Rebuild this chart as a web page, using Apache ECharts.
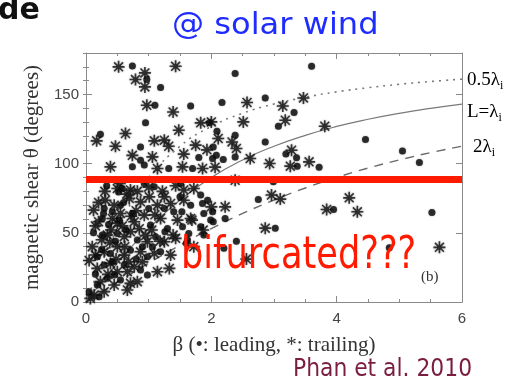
<!DOCTYPE html>
<html><head><meta charset="utf-8">
<script src="https://cdn.jsdelivr.net/npm/echarts@6/dist/echarts.min.js"></script>
<style>html,body{margin:0;padding:0;background:#fff}#c{width:519px;height:382px}</style>
</head><body><div id="c"></div>
<script>
// ---- data ----
const xTicks = [0, 2, 4, 6];
const yTicks = [0, 50, 100, 150];
const curveBeta = [0, 0.25, 0.5, 0.75, 1, 1.5, 2, 2.5, 3, 3.5, 4, 4.5, 5, 5.5, 6];
const curveHalf = [0, 28.1, 53.1, 73.7, 90, 112.6, 126.9, 136.4, 143.1, 148.0, 151.9, 154.9, 157.4, 159.4, 161.1];
const curveOne  = [0, 14.3, 28.1, 41.1, 53.1, 73.7, 90, 102.7, 112.6, 120.5, 126.9, 132.1, 136.4, 140.0, 143.1];
const curveTwo  = [0, 7.2, 14.3, 21.2, 28.1, 41.1, 53.1, 64.0, 73.7, 82.4, 90, 96.8, 102.7, 108.0, 112.6];
const redLevel = 88.5;
const leading = [
[0.74,170.6],[0.97,160.8],[1.19,155],[1.10,142.2],[1.67,141.7],[0.95,129.5],[1.97,129.5],[0.23,121.3],[0.87,112],[0.87,102.5],[0.93,99],[0.74,97.7],[1.32,96.5],[1.70,96.5],[1.80,104.5],[2.02,103.7],[2.08,106],
[2.38,165.1],[3.60,170.4],[2.86,147.5],[2.17,144.2],[3.32,137],[3.07,127.1],[2.09,123.5],[2.38,120.6],[2.86,115.7],[2.03,112.1],[2.38,104.9],[2.19,103],[3.19,106.9],[3.36,104.3],[3.37,98.2],[3.72,97.5],
[4.46,117.5],[5.05,109.2],[5.32,100.9],
[3.95,66.9],[5.52,64.7],[3.02,53.4],[4.84,39.2],[2.03,58],[2.22,60.4],[2.75,74.1],[2.4,44],[2.2,38.8],[2.99,86.9],
[0.58,82],[0.93,85.7],[1.09,83.3],[1.51,85.7],
[0.29,67.6],[0.42,65.2],[0.55,70],[1.0,67.6],[1.25,67.6],[1.4,65.2],[1.67,70],[1.83,77.3],[1.86,71.2],[1.94,73.6],[2.02,65.2],[1.88,64],
[0.26,60.4],[0.53,59.2],[1.03,55.6],[1.3,53.2],[1.54,54.4],[1.64,49.6],[1.83,54.4],[1.99,59.2],
[0.26,48.4],[0.5,49.6],[0.82,44.8],[1.11,47.2],[1.62,44.8],[1.88,48.4],
[0.18,32.7],[0.39,35.1],[0.71,37.5],[0.98,32.7],[1.19,36.3],
[0.29,26.7],[0.45,19.5],[0.61,26.7],[0.87,23.1],
[0.34,17.1],[0.18,12.3],[0.55,15.9],[0.98,19.5],
[0.21,3.8],[0.05,7.5],
[0.52,79.6],[1.5,76],[1.53,65.2],[0.28,64],[1.26,50.8],[1.6,42.4],
[0.12,50],[0.36,56],[0.47,44],[0.64,52],[0.74,64],[0.9,40],[0.42,29],[0.15,20],[0.6,72],[0.8,31],[1.06,40],[0.33,84],[0.25,38]
];
const trailing = [
[0.52,170],[0.94,165.6],[0.79,160.8],[0.94,155.5],[1.43,170.4],[0.97,142.2],[1.39,137.4],[1.83,129.5],[1.48,124.2],[0.63,121.8],[0.17,116.5],[0.47,112.6],[1.09,116.5],[1.25,117],[1.32,112.6],[1.56,106.9],[1.75,113.4],[1.93,110],[0.74,106],[1.06,104.9],[0.39,97.7],[1.14,96.5],[1.54,97.7],[1.86,96.5],
[2.57,144.2],[3.14,141.7],[3.47,147.5],[3.18,131.4],[2.51,130.2],[2.0,130.2],[3.81,127.1],[2.11,118.2],[2.33,115.7],[2.4,111],[2.62,103.7],[3.28,109.7],[2.93,100.1],[3.26,98.2],[3.56,101.3],[2.06,97.5],
[2.96,77.3],[3.1,74.4],[4.2,75.3],[3.84,66.9],[4.33,65.2],[2.86,53.4],[5.64,39.5],[2.0,68.8],[2.22,68.8],[2.56,31],[2.38,88],
[0.5,82],[0.71,81],[1.0,83],[1.22,80],[1.43,84],[1.56,81],[1.72,82],
[0.31,73.6],[0.69,74.9],[0.87,72.4],[1.14,70],[1.35,71.2],[1.56,73.6],
[0.42,60.4],[0.77,58],[0.93,62.8],[1.19,60.4],[1.46,59.2],[1.67,60.4],
[0.34,48.4],[0.61,47.2],[0.71,50.8],[0.98,43.6],[1.25,43.6],[1.43,46],[1.72,40],
[0.29,36.3],[0.5,40],[0.61,33.9],[0.87,36.3],[1.09,35.1],[1.35,33.9],
[0.18,24.3],[0.39,27.9],[0.5,21.9],[0.66,21.9],[0.77,25.5],[1.14,21.9],[1.33,24.3],
[0.23,14.7],[0.45,12.3],[0.71,13.5],[0.66,8.7],[0.82,14.7],
[0.13,5],[0.29,7.5],[0.07,2.6],
[0.12,66.4],[0.54,85.7],[0.1,40],[0.15,55],[0.05,30],[0.58,55],[0.45,70],[0.8,66],[0.3,80],[0.9,29],[0.38,43],[1.05,52],[1.25,76],[0.65,78],[1.87,52],[1.69,59.2],[1.39,48.4],[1.01,76],
[0.2,58],[0.25,45],[0.55,64],[0.72,62],[0.85,53],[0.48,31],[0.35,20],[0.62,40],[0.95,48],[1.1,63],[0.4,52],[0.15,34],[0.68,29],[0.82,80],[0.2,72],[1.18,44],[0.5,57]
];

// ---- chart ----
const zip = (xs, ys) => xs.map((x, i) => [x, ys[i]]);
const star = 'path://M0 5.2L12 5.2L12 6.8L0 6.8Z M5.2 0L6.8 0L6.8 12L5.2 12Z M1 2.1L2.1 1L11 9.9L9.9 11Z M9.9 1L11 2.1L2.1 11L1 9.9Z M3.6 3.6L8.4 3.6L8.4 8.4L3.6 8.4Z';
const frame = {show: true, onZero: false, lineStyle: {color: '#8a8a8a', width: 1}};
const tickStyle = {color: '#8a8a8a', width: 1};
const serif = '"Liberation Serif", "DejaVu Serif", serif';
const sans = '"Liberation Sans", Arial, sans-serif';
const sub = {fontSize: 12, fontFamily: serif, color: '#333', verticalAlign: 'bottom'};
const main = {fontSize: 19, fontFamily: serif, color: '#333', lineHeight: 24};

const chart = echarts.init(document.getElementById('c'), null, {renderer: 'canvas'});
chart.setOption({
  animation: false,
  backgroundColor: '#fff',
  grid: {left: 86, right: 57, top: 53, bottom: 80},
  xAxis: [
    {type: 'value', min: 0, max: 6, interval: 2, position: 'bottom',
     axisLine: frame, axisTick: {inside: true, length: 6, lineStyle: tickStyle},
     minorTick: {show: true, splitNumber: 4, length: 3, lineStyle: tickStyle},
     splitLine: {show: false}, minorSplitLine: {show: false},
     axisLabel: {color: '#444', fontSize: 15, fontFamily: sans, margin: 9,
       formatter: v => xTicks.includes(v) ? String(v) : ''},
     name: 'β (•: leading, *: trailing)', nameLocation: 'middle', nameGap: 33,
     nameTextStyle: {color: '#333', fontSize: 21, fontFamily: serif}},
    {type: 'value', min: 0, max: 6, interval: 2, position: 'top',
     axisLine: frame, axisTick: {inside: true, length: 6, lineStyle: tickStyle},
     minorTick: {show: true, splitNumber: 4, length: 3, lineStyle: tickStyle},
     splitLine: {show: false}, axisLabel: {show: false}}
  ],
  yAxis: [
    {type: 'value', min: 0, max: 180, interval: 50, position: 'left',
     axisLine: frame, axisTick: {inside: true, length: 6, lineStyle: tickStyle},
     splitLine: {show: false},
     axisLabel: {color: '#444', fontSize: 15, fontFamily: sans, margin: 7, showMaxLabel: false,
       formatter: v => yTicks.includes(v) ? String(v) : ''},
     name: 'magnetic shear θ (degrees)', nameLocation: 'middle', nameGap: 40, nameRotate: 90,
     nameTextStyle: {color: '#333', fontSize: 21, fontFamily: serif}},
    {type: 'value', min: 0, max: 180, interval: 10, position: 'left',
     axisLine: {show: false}, axisTick: {inside: true, length: 3, lineStyle: tickStyle},
     splitLine: {show: false}, axisLabel: {show: false}},
    {type: 'value', min: 0, max: 180, interval: 50, position: 'right',
     axisLine: frame, axisTick: {inside: true, length: 6, lineStyle: tickStyle},
     splitLine: {show: false}, axisLabel: {show: false}},
    {type: 'value', min: 0, max: 180, interval: 10, position: 'right',
     axisLine: {show: false}, axisTick: {inside: true, length: 3, lineStyle: tickStyle},
     splitLine: {show: false}, axisLabel: {show: false}}
  ],
  series: [
    {type: 'line', data: zip(curveBeta, curveHalf), smooth: true, showSymbol: false, silent: true, z: 1,
     lineStyle: {color: '#7a7a7a', width: 1.6, type: [2, 5]}},
    {type: 'line', data: zip(curveBeta, curveOne), smooth: true, showSymbol: false, silent: true, z: 1,
     lineStyle: {color: '#7a7a7a', width: 1.2, type: 'solid'}},
    {type: 'line', data: zip(curveBeta, curveTwo), smooth: true, showSymbol: false, silent: true, z: 1,
     lineStyle: {color: '#6a6a6a', width: 1.4, type: [9, 7]}},
    {type: 'scatter', data: trailing, symbol: star, symbolSize: 12, silent: true, z: 2,
     itemStyle: {color: '#1a1a1a', opacity: 0.85, shadowBlur: 2, shadowColor: 'rgba(0,0,0,0.5)'}},
    {type: 'scatter', data: leading, symbol: 'circle', symbolSize: 7, silent: true, z: 3,
     itemStyle: {color: '#0d0d0d', shadowBlur: 1.5, shadowColor: 'rgba(0,0,0,0.5)'}},
    {type: 'line', data: [[0, redLevel], [6, redLevel]], showSymbol: false, silent: true, z: 5,
     lineStyle: {color: '#ff1a00', width: 7}}
  ],
  graphic: [
    {type: 'text', x: -2, y: 26, z: 10, style: {text: 'de', fill: '#111', font: 'bold 30px "DejaVu Sans"', verticalAlign: 'bottom'}},
    {type: 'text', x: 172, y: 26, scaleX: 1.07, z: 10, style: {text: '@ solar wind', fill: '#1f2cff', font: '30px "DejaVu Sans"', verticalAlign: 'middle'}},
    {type: 'text', x: 181, y: 257, scaleX: 0.8, z: 10, style: {text: 'bifurcated???', fill: '#ff1a00', font: '44px "DejaVu Sans"', verticalAlign: 'middle'}},
    {type: 'text', x: 421, y: 277, z: 10, style: {text: '(b)', fill: '#333', font: '15px "Liberation Serif"', verticalAlign: 'middle'}},
    {type: 'text', x: 293, y: 370, scaleX: 0.91, z: 10, style: {text: 'Phan et al. 2010', fill: '#7a1d40', font: '24px "DejaVu Sans"', verticalAlign: 'middle'}},
    {type: 'text', x: 467, y: 80, z: 10, style: {text: '{m|0.5λ}{s|i}', verticalAlign: 'middle', rich: {m: main, s: sub}}},
    {type: 'text', x: 467, y: 112, z: 10, style: {text: '{m|L=λ}{s|i}', verticalAlign: 'middle', rich: {m: main, s: sub}}},
    {type: 'text', x: 473, y: 147, z: 10, style: {text: '{m|2λ}{s|i}', verticalAlign: 'middle', rich: {m: main, s: sub}}}
  ]
});
</script></body></html>
